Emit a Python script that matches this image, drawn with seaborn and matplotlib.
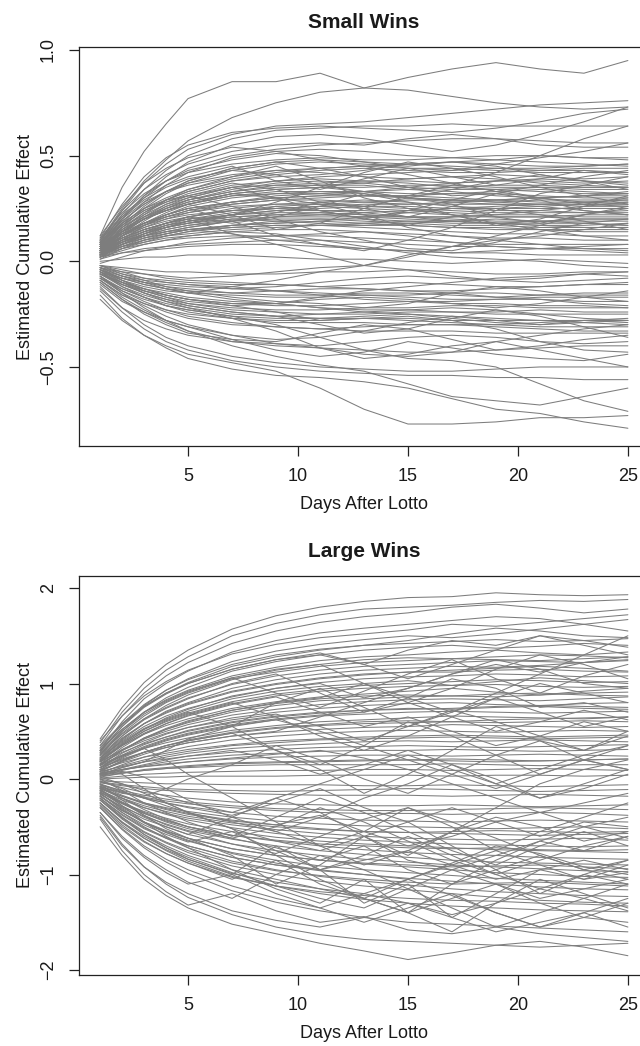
import matplotlib
matplotlib.use("Agg")
import matplotlib.pyplot as plt
import seaborn as sns
import pandas as pd

# ---------------- data ----------------
DAYS = [1, 2, 3, 4, 5, 7, 9, 11, 13, 15, 17, 19, 21, 23, 25]
X_TICKS = [5, 10, 15, 20, 25]

SMALL_TITLE = "Small Wins"
SMALL_Y_TICKS = [-0.5, 0.0, 0.5, 1.0]
SMALL_Y_LABELS = ["\u22120.5", "0.0", "0.5", "1.0"]
SMALL_WINS = [
    [0.12, 0.35, 0.52, 0.65, 0.77, 0.85, 0.85, 0.89, 0.82, 0.87, 0.91, 0.94, 0.91, 0.89, 0.95],
    [0.10, 0.25, 0.38, 0.48, 0.57, 0.68, 0.75, 0.80, 0.82, 0.81, 0.78, 0.75, 0.73, 0.72, 0.73],
    [0.09, 0.24, 0.37, 0.46, 0.53, 0.60, 0.64, 0.65, 0.66, 0.68, 0.70, 0.72, 0.74, 0.75, 0.76],
    [0.11, 0.27, 0.40, 0.49, 0.55, 0.61, 0.63, 0.64, 0.63, 0.62, 0.61, 0.63, 0.66, 0.70, 0.72],
    [0.08, 0.22, 0.34, 0.43, 0.50, 0.58, 0.62, 0.63, 0.64, 0.64, 0.65, 0.64, 0.64, 0.64, 0.64],
    [0.07, 0.20, 0.31, 0.40, 0.47, 0.55, 0.59, 0.60, 0.58, 0.55, 0.52, 0.55, 0.60, 0.66, 0.73],
    [0.10, 0.24, 0.34, 0.41, 0.46, 0.52, 0.55, 0.56, 0.55, 0.58, 0.60, 0.58, 0.55, 0.54, 0.54],
    [0.06, 0.18, 0.28, 0.36, 0.42, 0.49, 0.52, 0.53, 0.52, 0.50, 0.49, 0.48, 0.50, 0.49, 0.48],
    [0.09, 0.21, 0.31, 0.38, 0.43, 0.48, 0.51, 0.50, 0.47, 0.44, 0.43, 0.46, 0.49, 0.52, 0.56],
    [0.05, 0.16, 0.25, 0.32, 0.37, 0.43, 0.46, 0.47, 0.46, 0.45, 0.47, 0.46, 0.45, 0.45, 0.46],
    [0.07, 0.17, 0.26, 0.33, 0.38, 0.44, 0.47, 0.44, 0.40, 0.35, 0.31, 0.32, 0.36, 0.40, 0.43],
    [0.04, 0.14, 0.22, 0.29, 0.34, 0.40, 0.43, 0.44, 0.45, 0.44, 0.44, 0.43, 0.42, 0.42, 0.42],
    [0.08, 0.19, 0.27, 0.33, 0.37, 0.41, 0.43, 0.42, 0.40, 0.39, 0.40, 0.41, 0.40, 0.39, 0.40],
    [0.06, 0.15, 0.23, 0.29, 0.33, 0.38, 0.40, 0.41, 0.43, 0.46, 0.47, 0.45, 0.41, 0.38, 0.36],
    [0.05, 0.14, 0.21, 0.27, 0.31, 0.36, 0.38, 0.39, 0.38, 0.38, 0.37, 0.38, 0.38, 0.37, 0.38],
    [0.03, 0.12, 0.19, 0.25, 0.29, 0.34, 0.37, 0.38, 0.37, 0.35, 0.34, 0.34, 0.35, 0.35, 0.35],
    [0.09, 0.17, 0.24, 0.28, 0.31, 0.35, 0.36, 0.36, 0.36, 0.34, 0.33, 0.31, 0.30, 0.31, 0.33],
    [0.04, 0.12, 0.18, 0.23, 0.27, 0.32, 0.34, 0.35, 0.35, 0.36, 0.36, 0.35, 0.35, 0.34, 0.34],
    [0.07, 0.14, 0.20, 0.24, 0.27, 0.31, 0.33, 0.33, 0.32, 0.30, 0.29, 0.29, 0.30, 0.31, 0.31],
    [0.02, 0.10, 0.17, 0.22, 0.26, 0.30, 0.32, 0.33, 0.33, 0.32, 0.32, 0.32, 0.31, 0.30, 0.30],
    [0.06, 0.13, 0.18, 0.22, 0.25, 0.28, 0.30, 0.31, 0.31, 0.31, 0.30, 0.29, 0.28, 0.28, 0.28],
    [0.05, 0.12, 0.17, 0.21, 0.24, 0.27, 0.29, 0.29, 0.28, 0.27, 0.27, 0.27, 0.27, 0.26, 0.26],
    [0.03, 0.09, 0.14, 0.18, 0.21, 0.25, 0.27, 0.28, 0.29, 0.28, 0.26, 0.25, 0.25, 0.25, 0.25],
    [0.08, 0.14, 0.18, 0.21, 0.23, 0.26, 0.27, 0.27, 0.26, 0.25, 0.24, 0.23, 0.23, 0.23, 0.23],
    [0.04, 0.10, 0.15, 0.18, 0.21, 0.24, 0.25, 0.26, 0.25, 0.24, 0.23, 0.22, 0.22, 0.21, 0.21],
    [0.02, 0.08, 0.12, 0.16, 0.19, 0.22, 0.24, 0.24, 0.24, 0.23, 0.22, 0.21, 0.21, 0.20, 0.20],
    [0.06, 0.11, 0.15, 0.18, 0.20, 0.22, 0.23, 0.23, 0.22, 0.21, 0.20, 0.19, 0.19, 0.19, 0.19],
    [0.03, 0.08, 0.12, 0.15, 0.17, 0.20, 0.21, 0.21, 0.21, 0.20, 0.19, 0.18, 0.18, 0.18, 0.17],
    [0.05, 0.09, 0.12, 0.15, 0.17, 0.19, 0.20, 0.20, 0.19, 0.18, 0.17, 0.17, 0.16, 0.16, 0.16],
    [0.01, 0.06, 0.10, 0.13, 0.15, 0.17, 0.18, 0.19, 0.18, 0.17, 0.16, 0.16, 0.15, 0.15, 0.15],
    [0.04, 0.08, 0.11, 0.13, 0.15, 0.16, 0.17, 0.17, 0.16, 0.15, 0.14, 0.13, 0.13, 0.12, 0.12],
    [0.02, 0.05, 0.08, 0.10, 0.12, 0.14, 0.15, 0.15, 0.14, 0.13, 0.12, 0.11, 0.11, 0.10, 0.10],
    [0.03, 0.06, 0.08, 0.10, 0.11, 0.12, 0.12, 0.12, 0.11, 0.10, 0.09, 0.08, 0.08, 0.08, 0.08],
    [0.01, 0.04, 0.06, 0.07, 0.08, 0.09, 0.10, 0.10, 0.09, 0.08, 0.07, 0.07, 0.06, 0.06, 0.06],
    [0.02, 0.04, 0.05, 0.06, 0.07, 0.08, 0.08, 0.07, 0.06, 0.05, 0.04, 0.04, 0.03, 0.03, 0.03],
    [0.06, 0.14, 0.20, 0.24, 0.27, 0.22, 0.15, 0.18, 0.25, 0.31, 0.36, 0.42, 0.50, 0.58, 0.64],
    [0.09, 0.20, 0.28, 0.33, 0.36, 0.40, 0.45, 0.38, 0.30, 0.25, 0.22, 0.18, 0.15, 0.12, 0.10],
    [0.05, 0.12, 0.18, 0.22, 0.25, 0.19, 0.12, 0.08, 0.05, 0.10, 0.16, 0.24, 0.32, 0.36, 0.40],
    [0.07, 0.16, 0.23, 0.28, 0.32, 0.37, 0.34, 0.28, 0.26, 0.30, 0.27, 0.21, 0.18, 0.22, 0.25],
    [0.04, 0.10, 0.14, 0.17, 0.19, 0.22, 0.28, 0.35, 0.42, 0.47, 0.44, 0.40, 0.35, 0.31, 0.27],
    [0.08, 0.18, 0.25, 0.29, 0.31, 0.26, 0.20, 0.14, 0.10, 0.06, 0.05, 0.09, 0.14, 0.18, 0.20],
    [0.03, 0.08, 0.12, 0.14, 0.16, 0.19, 0.23, 0.28, 0.25, 0.21, 0.26, 0.32, 0.29, 0.24, 0.22],
    [0.10, 0.21, 0.29, 0.35, 0.39, 0.43, 0.41, 0.36, 0.33, 0.30, 0.34, 0.38, 0.41, 0.38, 0.34],
    [0.06, 0.12, 0.16, 0.19, 0.21, 0.18, 0.21, 0.26, 0.32, 0.28, 0.22, 0.17, 0.20, 0.26, 0.31],
    [0.05, 0.11, 0.15, 0.18, 0.20, 0.13, 0.08, 0.03, -0.02, 0.02, 0.07, 0.12, 0.17, 0.22, 0.26],
    [0.00, 0.01, 0.02, 0.02, 0.03, 0.03, 0.02, 0.01, 0.01, 0.00, -0.01, 0.00, 0.01, 0.00, -0.01],
    [-0.02, -0.03, -0.04, -0.05, -0.05, -0.06, -0.06, -0.05, -0.05, -0.04, -0.05, -0.06, -0.06, -0.05, -0.05],
    [-0.03, -0.06, -0.08, -0.09, -0.10, -0.11, -0.11, -0.12, -0.11, -0.10, -0.11, -0.12, -0.12, -0.11, -0.11],
    [-0.05, -0.09, -0.12, -0.14, -0.15, -0.16, -0.17, -0.17, -0.16, -0.16, -0.15, -0.15, -0.16, -0.16, -0.16],
    [-0.04, -0.09, -0.13, -0.16, -0.18, -0.20, -0.21, -0.21, -0.20, -0.19, -0.19, -0.18, -0.18, -0.19, -0.19],
    [-0.06, -0.11, -0.15, -0.18, -0.20, -0.22, -0.23, -0.23, -0.22, -0.22, -0.21, -0.21, -0.22, -0.22, -0.22],
    [-0.03, -0.09, -0.14, -0.17, -0.20, -0.23, -0.24, -0.25, -0.25, -0.24, -0.24, -0.25, -0.25, -0.25, -0.25],
    [-0.07, -0.13, -0.17, -0.21, -0.23, -0.26, -0.27, -0.27, -0.27, -0.27, -0.28, -0.28, -0.28, -0.28, -0.28],
    [-0.05, -0.12, -0.17, -0.21, -0.24, -0.27, -0.29, -0.29, -0.29, -0.30, -0.30, -0.30, -0.31, -0.31, -0.31],
    [-0.08, -0.15, -0.20, -0.24, -0.27, -0.30, -0.31, -0.32, -0.33, -0.33, -0.33, -0.34, -0.34, -0.34, -0.34],
    [-0.04, -0.10, -0.14, -0.17, -0.19, -0.21, -0.20, -0.17, -0.14, -0.12, -0.10, -0.08, -0.07, -0.06, -0.05],
    [-0.06, -0.12, -0.16, -0.19, -0.21, -0.24, -0.26, -0.30, -0.34, -0.32, -0.27, -0.23, -0.26, -0.31, -0.36],
    [-0.09, -0.17, -0.23, -0.28, -0.31, -0.35, -0.37, -0.36, -0.33, -0.29, -0.26, -0.28, -0.30, -0.28, -0.27],
    [-0.10, -0.18, -0.25, -0.30, -0.34, -0.37, -0.38, -0.34, -0.30, -0.32, -0.37, -0.42, -0.40, -0.37, -0.35],
    [-0.12, -0.22, -0.30, -0.36, -0.40, -0.45, -0.48, -0.50, -0.51, -0.52, -0.52, -0.51, -0.50, -0.50, -0.50],
    [-0.14, -0.24, -0.32, -0.38, -0.42, -0.47, -0.50, -0.52, -0.53, -0.54, -0.54, -0.55, -0.55, -0.56, -0.56],
    [-0.16, -0.27, -0.35, -0.41, -0.46, -0.51, -0.54, -0.55, -0.57, -0.60, -0.65, -0.70, -0.72, -0.76, -0.79],
    [-0.18, -0.28, -0.35, -0.40, -0.44, -0.48, -0.52, -0.60, -0.70, -0.77, -0.77, -0.76, -0.74, -0.74, -0.73],
    [-0.07, -0.15, -0.22, -0.28, -0.33, -0.40, -0.45, -0.49, -0.52, -0.58, -0.64, -0.66, -0.68, -0.64, -0.60],
    [-0.08, -0.14, -0.18, -0.21, -0.23, -0.26, -0.30, -0.36, -0.42, -0.46, -0.47, -0.50, -0.58, -0.66, -0.71],
    [-0.05, -0.10, -0.15, -0.19, -0.22, -0.27, -0.33, -0.41, -0.46, -0.44, -0.40, -0.38, -0.42, -0.46, -0.50],
    [-0.11, -0.19, -0.24, -0.28, -0.31, -0.37, -0.42, -0.45, -0.43, -0.38, -0.41, -0.44, -0.46, -0.47, -0.44],
    [-0.09, -0.16, -0.21, -0.26, -0.30, -0.35, -0.39, -0.41, -0.44, -0.45, -0.43, -0.38, -0.35, -0.32, -0.30],
    [-0.02, -0.06, -0.09, -0.12, -0.14, -0.17, -0.19, -0.20, -0.22, -0.20, -0.15, -0.12, -0.14, -0.17, -0.19],
    [-0.04, -0.08, -0.11, -0.13, -0.15, -0.12, -0.09, -0.05, -0.02, 0.03, 0.07, 0.10, 0.12, 0.15, 0.18],
    [-0.06, -0.10, -0.13, -0.16, -0.18, -0.21, -0.24, -0.28, -0.27, -0.26, -0.28, -0.32, -0.38, -0.42, -0.43],
    [-0.03, -0.07, -0.10, -0.13, -0.15, -0.18, -0.20, -0.22, -0.24, -0.25, -0.26, -0.27, -0.28, -0.29, -0.30],
    [0.05, 0.13, 0.20, 0.26, 0.30, 0.35, 0.38, 0.40, 0.41, 0.42, 0.43, 0.44, 0.44, 0.45, 0.46],
    [0.07, 0.15, 0.21, 0.25, 0.28, 0.32, 0.34, 0.35, 0.33, 0.30, 0.28, 0.27, 0.26, 0.24, 0.22],
    [0.02, 0.07, 0.11, 0.14, 0.16, 0.19, 0.21, 0.22, 0.23, 0.24, 0.25, 0.25, 0.26, 0.27, 0.27],
    [0.04, 0.09, 0.13, 0.16, 0.18, 0.21, 0.22, 0.23, 0.22, 0.21, 0.21, 0.22, 0.24, 0.26, 0.28],
    [0.03, 0.07, 0.10, 0.12, 0.14, 0.16, 0.17, 0.17, 0.17, 0.18, 0.19, 0.20, 0.19, 0.18, 0.17],
    [0.06, 0.14, 0.20, 0.25, 0.29, 0.33, 0.35, 0.36, 0.37, 0.39, 0.40, 0.39, 0.37, 0.36, 0.35],
    [-0.02, -0.04, -0.06, -0.08, -0.09, -0.10, -0.11, -0.12, -0.13, -0.14, -0.14, -0.13, -0.12, -0.11, -0.10],
    [-0.04, -0.08, -0.11, -0.13, -0.14, -0.15, -0.14, -0.13, -0.13, -0.14, -0.15, -0.17, -0.18, -0.20, -0.21],
    [0.05, 0.10, 0.12, 0.14, 0.15, 0.13, 0.10, 0.08, 0.06, 0.05, 0.04, 0.05, 0.06, 0.05, 0.04],
    [0.03, 0.07, 0.09, 0.11, 0.12, 0.14, 0.13, 0.10, 0.07, 0.04, 0.02, 0.01, 0.00, -0.02, -0.03],
    [-0.01, 0.02, 0.05, 0.07, 0.09, 0.11, 0.12, 0.13, 0.14, 0.12, 0.09, 0.07, 0.06, 0.07, 0.08],
    [-0.03, -0.05, -0.06, -0.07, -0.08, -0.07, -0.05, -0.03, -0.02, -0.04, -0.07, -0.09, -0.08, -0.06, -0.07],
    [-0.05, -0.08, -0.10, -0.11, -0.12, -0.13, -0.12, -0.10, -0.08, -0.07, -0.08, -0.09, -0.10, -0.09, -0.08],
    [0.08, 0.17, 0.24, 0.29, 0.33, 0.38, 0.41, 0.43, 0.44, 0.43, 0.42, 0.42, 0.43, 0.44, 0.44],
    [0.06, 0.14, 0.20, 0.24, 0.27, 0.31, 0.32, 0.32, 0.31, 0.31, 0.32, 0.33, 0.34, 0.33, 0.32],
    [0.04, 0.11, 0.16, 0.20, 0.23, 0.27, 0.29, 0.30, 0.31, 0.30, 0.29, 0.28, 0.29, 0.29, 0.29],
    [0.07, 0.15, 0.21, 0.26, 0.29, 0.33, 0.36, 0.37, 0.38, 0.37, 0.35, 0.34, 0.33, 0.32, 0.32],
    [0.02, 0.08, 0.13, 0.17, 0.20, 0.23, 0.25, 0.26, 0.27, 0.27, 0.28, 0.29, 0.30, 0.31, 0.32],
    [0.05, 0.11, 0.15, 0.18, 0.21, 0.24, 0.26, 0.27, 0.28, 0.29, 0.29, 0.28, 0.27, 0.27, 0.26],
    [0.09, 0.19, 0.27, 0.33, 0.38, 0.44, 0.47, 0.48, 0.47, 0.46, 0.45, 0.44, 0.43, 0.43, 0.42],
    [0.11, 0.23, 0.32, 0.38, 0.42, 0.46, 0.48, 0.49, 0.48, 0.48, 0.49, 0.50, 0.50, 0.49, 0.49],
    [0.06, 0.13, 0.18, 0.22, 0.25, 0.28, 0.30, 0.31, 0.33, 0.35, 0.37, 0.38, 0.39, 0.38, 0.37],
    [0.03, 0.09, 0.13, 0.16, 0.19, 0.22, 0.24, 0.25, 0.26, 0.26, 0.25, 0.24, 0.24, 0.23, 0.24],
    [0.04, 0.10, 0.14, 0.17, 0.19, 0.21, 0.22, 0.22, 0.21, 0.21, 0.21, 0.21, 0.21, 0.22, 0.22],
    [0.02, 0.06, 0.09, 0.12, 0.14, 0.17, 0.19, 0.20, 0.20, 0.19, 0.18, 0.18, 0.19, 0.20, 0.20],
    [0.05, 0.10, 0.14, 0.16, 0.18, 0.20, 0.19, 0.18, 0.17, 0.17, 0.16, 0.15, 0.15, 0.14, 0.14],
    [0.07, 0.13, 0.17, 0.20, 0.22, 0.24, 0.25, 0.24, 0.23, 0.21, 0.19, 0.18, 0.17, 0.17, 0.18],
    [0.03, 0.07, 0.10, 0.12, 0.13, 0.15, 0.16, 0.17, 0.18, 0.19, 0.19, 0.18, 0.17, 0.16, 0.16],
    [0.10, 0.22, 0.30, 0.36, 0.40, 0.45, 0.38, 0.34, 0.39, 0.44, 0.40, 0.36, 0.39, 0.43, 0.41],
    [0.08, 0.16, 0.22, 0.27, 0.30, 0.35, 0.30, 0.24, 0.20, 0.24, 0.29, 0.34, 0.30, 0.27, 0.30],
    [0.04, 0.09, 0.13, 0.16, 0.18, 0.22, 0.26, 0.24, 0.20, 0.17, 0.21, 0.25, 0.22, 0.19, 0.15],
    [0.12, 0.26, 0.37, 0.44, 0.49, 0.54, 0.52, 0.48, 0.45, 0.41, 0.37, 0.33, 0.30, 0.28, 0.27],
    [0.06, 0.14, 0.20, 0.24, 0.28, 0.32, 0.30, 0.27, 0.22, 0.16, 0.12, 0.10, 0.08, 0.06, 0.05],
    [-0.04, -0.07, -0.09, -0.10, -0.11, -0.12, -0.14, -0.16, -0.18, -0.19, -0.20, -0.20, -0.21, -0.21, -0.22],
    [-0.06, -0.10, -0.13, -0.15, -0.17, -0.19, -0.20, -0.22, -0.23, -0.23, -0.24, -0.24, -0.23, -0.24, -0.24],
    [-0.05, -0.11, -0.15, -0.18, -0.21, -0.24, -0.26, -0.27, -0.26, -0.25, -0.27, -0.29, -0.30, -0.29, -0.28],
    [-0.08, -0.13, -0.17, -0.20, -0.22, -0.25, -0.26, -0.25, -0.24, -0.23, -0.22, -0.23, -0.25, -0.27, -0.28],
    [-0.07, -0.14, -0.19, -0.23, -0.26, -0.29, -0.31, -0.32, -0.31, -0.30, -0.30, -0.31, -0.32, -0.33, -0.33],
    [-0.03, -0.07, -0.10, -0.12, -0.13, -0.15, -0.16, -0.16, -0.15, -0.15, -0.16, -0.17, -0.16, -0.15, -0.15],
    [-0.10, -0.18, -0.24, -0.29, -0.33, -0.38, -0.40, -0.41, -0.42, -0.43, -0.43, -0.42, -0.41, -0.40, -0.40],
    [-0.06, -0.11, -0.14, -0.16, -0.18, -0.20, -0.20, -0.18, -0.17, -0.18, -0.20, -0.22, -0.20, -0.17, -0.14],
    [-0.09, -0.16, -0.20, -0.23, -0.25, -0.27, -0.28, -0.28, -0.27, -0.28, -0.29, -0.30, -0.29, -0.28, -0.29],
    [-0.02, -0.05, -0.08, -0.10, -0.11, -0.13, -0.14, -0.15, -0.16, -0.17, -0.18, -0.18, -0.17, -0.17, -0.17],
    [-0.13, -0.22, -0.28, -0.32, -0.35, -0.38, -0.39, -0.40, -0.38, -0.36, -0.35, -0.36, -0.38, -0.39, -0.38],
    [0.09, 0.18, 0.25, 0.30, 0.34, 0.39, 0.42, 0.44, 0.45, 0.46, 0.47, 0.48, 0.47, 0.46, 0.45],
    [0.05, 0.12, 0.17, 0.21, 0.24, 0.28, 0.31, 0.32, 0.33, 0.34, 0.35, 0.36, 0.36, 0.35, 0.35],
    [0.04, 0.08, 0.11, 0.13, 0.15, 0.17, 0.18, 0.19, 0.21, 0.23, 0.25, 0.26, 0.27, 0.28, 0.29],
    [0.08, 0.20, 0.30, 0.38, 0.44, 0.50, 0.53, 0.55, 0.56, 0.57, 0.58, 0.58, 0.57, 0.56, 0.56],
]

LARGE_TITLE = "Large Wins"
LARGE_Y_TICKS = [-2, -1, 0, 1, 2]
LARGE_Y_LABELS = ["\u22122", "\u22121", "0", "1", "2"]
LARGE_WINS = [
    [0.42, 0.75, 1.01, 1.20, 1.35, 1.57, 1.71, 1.80, 1.86, 1.90, 1.91, 1.95, 1.93, 1.92, 1.93],
    [0.38, 0.70, 0.95, 1.14, 1.28, 1.50, 1.63, 1.72, 1.78, 1.80, 1.82, 1.85, 1.87, 1.86, 1.88],
    [0.35, 0.66, 0.90, 1.08, 1.22, 1.42, 1.55, 1.64, 1.70, 1.74, 1.80, 1.83, 1.79, 1.74, 1.78],
    [0.30, 0.60, 0.84, 1.00, 1.13, 1.33, 1.45, 1.53, 1.58, 1.62, 1.66, 1.70, 1.68, 1.62, 1.55],
    [0.40, 0.66, 0.87, 1.02, 1.14, 1.31, 1.41, 1.48, 1.52, 1.56, 1.62, 1.60, 1.64, 1.68, 1.72],
    [0.28, 0.55, 0.77, 0.93, 1.05, 1.23, 1.34, 1.41, 1.46, 1.50, 1.48, 1.52, 1.57, 1.62, 1.67],
    [0.33, 0.57, 0.76, 0.90, 1.01, 1.18, 1.28, 1.35, 1.40, 1.45, 1.52, 1.58, 1.55, 1.50, 1.48],
    [0.25, 0.50, 0.70, 0.85, 0.96, 1.13, 1.23, 1.30, 1.35, 1.38, 1.40, 1.37, 1.39, 1.42, 1.40],
    [0.30, 0.52, 0.70, 0.83, 0.93, 1.08, 1.17, 1.24, 1.28, 1.30, 1.33, 1.35, 1.32, 1.30, 1.33],
    [0.22, 0.45, 0.63, 0.77, 0.88, 1.04, 1.14, 1.20, 1.25, 1.27, 1.26, 1.28, 1.30, 1.29, 1.27],
    [0.27, 0.47, 0.63, 0.75, 0.85, 0.99, 1.08, 1.14, 1.18, 1.20, 1.22, 1.24, 1.23, 1.22, 1.24],
    [0.20, 0.41, 0.58, 0.71, 0.80, 0.95, 1.04, 1.10, 1.14, 1.16, 1.18, 1.17, 1.19, 1.22, 1.25],
    [0.24, 0.43, 0.58, 0.69, 0.78, 0.91, 0.99, 1.05, 1.09, 1.12, 1.14, 1.16, 1.18, 1.16, 1.13],
    [0.18, 0.37, 0.52, 0.64, 0.73, 0.87, 0.95, 1.01, 1.05, 1.07, 1.08, 1.10, 1.09, 1.07, 1.08],
    [0.22, 0.39, 0.53, 0.63, 0.71, 0.84, 0.92, 0.97, 1.00, 1.03, 0.98, 1.02, 1.06, 1.03, 1.00],
    [0.16, 0.33, 0.47, 0.58, 0.67, 0.79, 0.87, 0.92, 0.95, 0.97, 0.98, 0.99, 0.97, 0.96, 0.97],
    [0.20, 0.35, 0.47, 0.56, 0.63, 0.74, 0.81, 0.86, 0.89, 0.92, 0.95, 0.91, 0.88, 0.92, 0.95],
    [0.14, 0.30, 0.43, 0.53, 0.61, 0.72, 0.79, 0.84, 0.87, 0.88, 0.87, 0.89, 0.90, 0.88, 0.87],
    [0.18, 0.31, 0.42, 0.50, 0.57, 0.67, 0.73, 0.78, 0.81, 0.83, 0.84, 0.83, 0.82, 0.84, 0.86],
    [0.12, 0.27, 0.38, 0.47, 0.54, 0.64, 0.70, 0.74, 0.77, 0.79, 0.80, 0.78, 0.77, 0.79, 0.80],
    [0.16, 0.28, 0.37, 0.44, 0.50, 0.59, 0.65, 0.69, 0.72, 0.74, 0.73, 0.75, 0.76, 0.74, 0.73],
    [0.10, 0.23, 0.33, 0.41, 0.47, 0.56, 0.62, 0.66, 0.68, 0.70, 0.71, 0.70, 0.69, 0.70, 0.71],
    [0.14, 0.24, 0.32, 0.38, 0.43, 0.51, 0.56, 0.60, 0.62, 0.64, 0.66, 0.65, 0.64, 0.63, 0.65],
    [0.08, 0.19, 0.28, 0.35, 0.41, 0.49, 0.54, 0.57, 0.60, 0.61, 0.60, 0.59, 0.60, 0.61, 0.60],
    [0.12, 0.21, 0.28, 0.33, 0.38, 0.45, 0.49, 0.52, 0.54, 0.55, 0.57, 0.56, 0.55, 0.54, 0.55],
    [0.06, 0.15, 0.23, 0.29, 0.34, 0.41, 0.45, 0.48, 0.50, 0.51, 0.50, 0.49, 0.50, 0.51, 0.50],
    [0.10, 0.17, 0.23, 0.27, 0.31, 0.36, 0.40, 0.42, 0.44, 0.45, 0.46, 0.45, 0.44, 0.45, 0.46],
    [0.05, 0.12, 0.18, 0.23, 0.27, 0.32, 0.35, 0.37, 0.39, 0.40, 0.39, 0.40, 0.41, 0.40, 0.39],
    [0.08, 0.13, 0.18, 0.21, 0.24, 0.28, 0.31, 0.33, 0.34, 0.35, 0.34, 0.33, 0.34, 0.35, 0.36],
    [0.03, 0.09, 0.14, 0.18, 0.21, 0.25, 0.27, 0.29, 0.30, 0.30, 0.31, 0.30, 0.29, 0.30, 0.31],
    [0.06, 0.10, 0.13, 0.16, 0.18, 0.21, 0.23, 0.24, 0.25, 0.25, 0.24, 0.25, 0.26, 0.25, 0.24],
    [0.02, 0.06, 0.10, 0.12, 0.14, 0.17, 0.18, 0.19, 0.20, 0.20, 0.21, 0.20, 0.19, 0.20, 0.21],
    [0.04, 0.07, 0.09, 0.11, 0.12, 0.14, 0.15, 0.15, 0.15, 0.15, 0.16, 0.15, 0.14, 0.15, 0.15],
    [0.01, 0.03, 0.05, 0.06, 0.07, 0.08, 0.09, 0.09, 0.10, 0.10, 0.09, 0.10, 0.11, 0.10, 0.09],
    [0.00, 0.01, 0.02, 0.02, 0.03, 0.03, 0.03, 0.04, 0.04, 0.04, 0.03, 0.04, 0.04, 0.03, 0.04],
    [-0.02, -0.03, -0.04, -0.05, -0.05, -0.06, -0.06, -0.06, -0.07, -0.07, -0.06, -0.07, -0.08, -0.07, -0.06],
    [-0.04, -0.07, -0.10, -0.12, -0.13, -0.15, -0.16, -0.17, -0.17, -0.17, -0.18, -0.17, -0.16, -0.17, -0.18],
    [-0.03, -0.09, -0.14, -0.17, -0.20, -0.24, -0.26, -0.27, -0.28, -0.28, -0.27, -0.28, -0.29, -0.28, -0.27],
    [-0.08, -0.14, -0.19, -0.23, -0.26, -0.30, -0.33, -0.35, -0.36, -0.36, -0.37, -0.36, -0.35, -0.36, -0.38],
    [-0.05, -0.13, -0.20, -0.25, -0.29, -0.35, -0.39, -0.41, -0.43, -0.44, -0.45, -0.44, -0.43, -0.44, -0.45],
    [-0.10, -0.18, -0.25, -0.30, -0.34, -0.40, -0.44, -0.47, -0.49, -0.50, -0.51, -0.52, -0.51, -0.50, -0.52],
    [-0.07, -0.17, -0.25, -0.31, -0.36, -0.43, -0.48, -0.52, -0.55, -0.56, -0.57, -0.58, -0.59, -0.58, -0.57],
    [-0.12, -0.22, -0.30, -0.36, -0.41, -0.48, -0.53, -0.57, -0.60, -0.62, -0.63, -0.64, -0.63, -0.62, -0.64],
    [-0.09, -0.20, -0.30, -0.37, -0.43, -0.51, -0.57, -0.61, -0.64, -0.66, -0.68, -0.69, -0.70, -0.71, -0.70],
    [-0.14, -0.25, -0.34, -0.41, -0.47, -0.55, -0.61, -0.65, -0.68, -0.70, -0.72, -0.74, -0.75, -0.76, -0.77],
    [-0.11, -0.24, -0.35, -0.43, -0.50, -0.59, -0.65, -0.70, -0.74, -0.77, -0.79, -0.80, -0.82, -0.83, -0.84],
    [-0.16, -0.29, -0.39, -0.47, -0.54, -0.63, -0.70, -0.75, -0.79, -0.82, -0.85, -0.87, -0.88, -0.89, -0.90],
    [-0.13, -0.28, -0.40, -0.50, -0.58, -0.68, -0.75, -0.80, -0.84, -0.87, -0.90, -0.92, -0.94, -0.96, -0.97],
    [-0.18, -0.33, -0.45, -0.54, -0.62, -0.73, -0.80, -0.85, -0.89, -0.92, -0.95, -0.98, -1.00, -1.02, -1.03],
    [-0.15, -0.31, -0.45, -0.56, -0.65, -0.77, -0.85, -0.91, -0.95, -0.98, -1.01, -1.04, -1.06, -1.08, -1.10],
    [-0.20, -0.37, -0.51, -0.61, -0.70, -0.82, -0.90, -0.96, -1.00, -1.04, -1.07, -1.10, -1.13, -1.15, -1.16],
    [-0.17, -0.35, -0.50, -0.62, -0.72, -0.86, -0.95, -1.02, -1.07, -1.11, -1.15, -1.18, -1.20, -1.22, -1.23],
    [-0.22, -0.41, -0.56, -0.67, -0.77, -0.91, -1.00, -1.07, -1.12, -1.16, -1.20, -1.24, -1.27, -1.29, -1.30],
    [-0.25, -0.45, -0.62, -0.75, -0.86, -1.02, -1.12, -1.20, -1.26, -1.30, -1.33, -1.35, -1.37, -1.38, -1.39],
    [-0.30, -0.53, -0.72, -0.87, -0.99, -1.17, -1.29, -1.38, -1.45, -1.50, -1.52, -1.54, -1.56, -1.58, -1.60],
    [-0.50, -0.80, -1.05, -1.22, -1.35, -1.52, -1.62, -1.72, -1.80, -1.89, -1.82, -1.74, -1.70, -1.76, -1.85],
    [-0.38, -0.68, -0.92, -1.10, -1.24, -1.42, -1.55, -1.63, -1.68, -1.70, -1.72, -1.74, -1.76, -1.74, -1.72],
    [-0.42, -0.75, -1.00, -1.18, -1.32, -1.20, -1.38, -1.50, -1.44, -1.58, -1.62, -1.55, -1.62, -1.66, -1.70],
    [-0.20, -0.40, -0.58, -0.72, -0.84, -1.00, -0.70, -0.95, -1.30, -1.10, -1.45, -1.20, -0.95, -1.05, -0.90],
    [0.10, 0.05, -0.10, -0.25, -0.35, -0.52, -0.80, -1.05, -1.25, -1.40, -1.10, -0.85, -0.65, -0.75, -0.60],
    [-0.05, -0.22, -0.38, -0.52, -0.62, -0.80, -1.10, -0.90, -0.60, -0.45, -0.70, -0.95, -1.20, -1.00, -0.85],
    [0.15, 0.25, 0.32, 0.20, 0.05, -0.20, -0.45, -0.70, -0.55, -0.30, -0.50, -0.75, -0.55, -0.40, -0.25],
    [-0.10, -0.28, -0.45, -0.60, -0.72, -0.95, -1.15, -1.30, -1.05, -1.40, -1.60, -1.30, -1.05, -1.20, -1.35],
    [0.05, 0.12, 0.18, 0.30, 0.42, 0.55, 0.30, 0.10, -0.15, 0.05, 0.30, 0.55, 0.40, 0.20, 0.35],
    [0.20, 0.38, 0.52, 0.62, 0.70, 0.55, 0.80, 0.95, 0.75, 0.55, 0.70, 0.90, 1.10, 1.30, 1.50],
    [-0.15, -0.30, -0.42, -0.50, -0.58, -0.40, -0.20, -0.35, -0.60, -0.80, -0.55, -0.30, -0.05, 0.10, 0.20],
    [0.25, 0.45, 0.62, 0.74, 0.84, 1.00, 1.10, 0.90, 0.70, 0.85, 1.05, 0.95, 0.75, 0.80, 0.70],
    [-0.25, -0.45, -0.60, -0.72, -0.82, -0.98, -1.12, -1.25, -1.35, -1.15, -0.95, -1.10, -1.30, -1.45, -1.30],
    [0.00, -0.12, -0.25, -0.35, -0.45, -0.60, -0.40, -0.20, -0.35, -0.55, -0.75, -0.90, -0.70, -0.55, -0.70],
    [0.12, 0.20, 0.28, 0.35, 0.40, 0.48, 0.30, 0.15, 0.35, 0.60, 0.45, 0.25, 0.05, 0.20, 0.10],
    [-0.30, -0.52, -0.70, -0.84, -0.95, -1.12, -1.25, -1.35, -1.20, -1.05, -1.22, -1.40, -1.55, -1.40, -1.25],
    [0.30, 0.52, 0.70, 0.82, 0.92, 1.06, 1.15, 1.20, 1.00, 0.80, 0.95, 1.15, 1.30, 1.20, 1.05],
    [-0.08, -0.15, -0.18, -0.10, 0.00, 0.15, 0.35, 0.20, 0.00, -0.15, 0.05, 0.25, 0.40, 0.30, 0.50],
    [-0.35, -0.60, -0.80, -0.95, -1.08, -1.25, -1.00, -0.80, -0.95, -1.15, -1.35, -1.55, -1.40, -1.25, -1.10],
    [0.18, 0.35, 0.48, 0.58, 0.66, 0.78, 0.86, 0.70, 0.55, 0.65, 0.50, 0.35, 0.45, 0.60, 0.50],
    [-0.12, -0.25, -0.38, -0.48, -0.55, -0.68, -0.78, -0.60, -0.42, -0.30, -0.45, -0.62, -0.80, -0.95, -0.85],
    [0.08, 0.18, 0.26, 0.33, 0.38, 0.45, 0.50, 0.65, 0.80, 0.95, 1.10, 1.20, 1.12, 1.22, 1.28],
    [-0.20, -0.38, -0.52, -0.62, -0.70, -0.82, -0.90, -0.95, -0.85, -0.75, -0.90, -1.05, -0.95, -0.85, -0.95],
    [0.02, -0.05, -0.15, -0.25, -0.35, -0.52, -0.65, -0.75, -0.60, -0.85, -0.95, -0.80, -0.65, -0.50, -0.40],
    [0.35, 0.58, 0.76, 0.90, 1.00, 1.15, 1.25, 1.30, 1.20, 1.35, 1.45, 1.40, 1.50, 1.45, 1.38],
    [0.32, 0.58, 0.78, 0.93, 1.04, 1.20, 1.30, 1.36, 1.40, 1.42, 1.44, 1.46, 1.44, 1.45, 1.47],
    [0.26, 0.48, 0.66, 0.80, 0.90, 1.05, 1.12, 1.18, 1.22, 1.24, 1.26, 1.25, 1.24, 1.26, 1.28],
    [0.22, 0.42, 0.58, 0.70, 0.79, 0.92, 1.00, 1.06, 1.10, 1.12, 1.12, 1.14, 1.15, 1.13, 1.12],
    [0.19, 0.36, 0.50, 0.61, 0.69, 0.81, 0.89, 0.94, 0.98, 1.00, 1.02, 1.04, 1.03, 1.01, 1.02],
    [0.15, 0.30, 0.42, 0.52, 0.59, 0.70, 0.77, 0.82, 0.84, 0.86, 0.87, 0.86, 0.88, 0.90, 0.91],
    [0.12, 0.25, 0.36, 0.44, 0.51, 0.60, 0.66, 0.70, 0.72, 0.73, 0.74, 0.76, 0.77, 0.76, 0.75],
    [0.09, 0.19, 0.28, 0.35, 0.40, 0.48, 0.53, 0.56, 0.58, 0.59, 0.60, 0.62, 0.63, 0.64, 0.65],
    [0.07, 0.14, 0.20, 0.25, 0.29, 0.35, 0.38, 0.41, 0.42, 0.43, 0.44, 0.43, 0.42, 0.43, 0.44],
    [0.03, 0.06, 0.09, 0.11, 0.13, 0.16, 0.17, 0.18, 0.19, 0.20, 0.19, 0.18, 0.19, 0.20, 0.21],
    [-0.03, -0.06, -0.08, -0.10, -0.11, -0.12, -0.13, -0.12, -0.11, -0.10, -0.11, -0.12, -0.13, -0.12, -0.11],
    [-0.06, -0.12, -0.17, -0.21, -0.24, -0.28, -0.31, -0.32, -0.33, -0.33, -0.32, -0.31, -0.30, -0.31, -0.32],
    [-0.10, -0.20, -0.28, -0.34, -0.39, -0.46, -0.50, -0.53, -0.55, -0.56, -0.55, -0.54, -0.55, -0.56, -0.55],
    [-0.14, -0.26, -0.36, -0.44, -0.50, -0.59, -0.64, -0.68, -0.70, -0.72, -0.73, -0.72, -0.74, -0.75, -0.74],
    [-0.18, -0.33, -0.45, -0.55, -0.62, -0.73, -0.80, -0.85, -0.88, -0.90, -0.92, -0.91, -0.90, -0.92, -0.94],
    [-0.22, -0.40, -0.55, -0.66, -0.75, -0.88, -0.96, -1.01, -1.05, -1.08, -1.10, -1.09, -1.08, -1.10, -1.12],
    [-0.27, -0.48, -0.65, -0.78, -0.88, -1.03, -1.12, -1.18, -1.22, -1.25, -1.27, -1.28, -1.30, -1.31, -1.33],
    [0.28, 0.50, 0.68, 0.81, 0.91, 1.06, 0.90, 0.75, 0.92, 1.10, 1.25, 1.05, 0.90, 1.08, 1.20],
    [0.05, 0.08, 0.02, -0.10, -0.22, -0.40, -0.55, -0.40, -0.20, -0.05, 0.15, 0.00, -0.20, -0.10, 0.05],
    [-0.08, -0.20, -0.32, -0.42, -0.50, -0.62, -0.50, -0.30, -0.45, -0.65, -0.85, -1.00, -1.15, -1.00, -1.10],
    [0.20, 0.36, 0.50, 0.60, 0.68, 0.80, 0.65, 0.45, 0.30, 0.45, 0.65, 0.85, 0.70, 0.55, 0.65],
    [-0.18, -0.35, -0.48, -0.58, -0.66, -0.55, -0.75, -0.95, -0.80, -0.60, -0.80, -1.00, -0.85, -0.70, -0.60],
    [0.10, 0.22, 0.32, 0.40, 0.46, 0.55, 0.62, 0.50, 0.35, 0.20, 0.05, -0.10, 0.05, 0.20, 0.10],
    [-0.28, -0.50, -0.66, -0.78, -0.88, -1.05, -0.85, -1.10, -1.25, -1.40, -1.25, -1.10, -1.25, -1.15, -1.05],
    [0.15, 0.30, 0.43, 0.52, 0.60, 0.72, 0.80, 0.85, 1.00, 0.85, 0.70, 0.85, 1.00, 0.90, 0.80],
    [-0.02, -0.10, -0.20, -0.28, -0.35, -0.45, -0.55, -0.70, -0.90, -0.75, -0.55, -0.40, -0.50, -0.65, -0.55],
    [0.00, -0.05, -0.12, -0.18, -0.25, -0.35, -0.20, -0.05, 0.10, 0.25, 0.10, -0.05, 0.10, 0.25, 0.35],
    [-0.35, -0.62, -0.82, -0.98, -1.10, -1.00, -1.20, -1.35, -1.50, -1.35, -1.20, -1.40, -1.55, -1.45, -1.50],
    [0.22, 0.40, 0.55, 0.66, 0.74, 0.86, 0.95, 1.00, 0.85, 0.95, 1.10, 1.25, 1.15, 1.00, 0.95],
    [-0.12, -0.25, -0.36, -0.45, -0.52, -0.62, -0.72, -0.85, -0.70, -0.95, -1.10, -0.95, -0.80, -0.95, -1.05],
    [0.04, 0.10, 0.15, 0.20, 0.24, 0.30, 0.20, 0.05, 0.15, 0.30, 0.15, -0.05, -0.20, -0.05, 0.10],
    [-0.22, -0.42, -0.58, -0.70, -0.80, -0.95, -1.05, -1.15, -1.25, -1.05, -0.90, -0.75, -0.90, -1.05, -0.98],
    [0.30, 0.55, 0.75, 0.89, 1.00, 1.15, 1.25, 1.32, 1.20, 1.05, 1.20, 1.35, 1.50, 1.40, 1.30],
    [-0.06, -0.14, -0.20, -0.25, -0.30, -0.38, -0.25, -0.10, -0.30, -0.45, -0.30, -0.45, -0.60, -0.45, -0.50],
    [0.18, 0.30, 0.40, 0.48, 0.54, 0.62, 0.68, 0.55, 0.40, 0.55, 0.72, 0.60, 0.45, 0.30, 0.45],
    [-0.40, -0.70, -0.92, -1.08, -1.20, -1.38, -1.48, -1.55, -1.45, -1.30, -1.45, -1.60, -1.50, -1.40, -1.55],
    [-0.15, -0.32, -0.46, -0.56, -0.64, -0.78, -0.88, -0.95, -1.00, -1.05, -0.88, -0.70, -0.78, -0.92, -1.00],
    [0.12, 0.24, 0.34, 0.42, 0.48, 0.57, 0.63, 0.67, 0.70, 0.80, 0.65, 0.50, 0.60, 0.72, 0.62],
    [-0.25, -0.46, -0.62, -0.74, -0.84, -0.99, -1.08, -1.15, -1.20, -1.30, -1.42, -1.30, -1.15, -1.25, -1.38],
    [0.06, 0.10, 0.13, 0.15, 0.18, 0.22, 0.26, 0.30, 0.22, 0.10, -0.05, -0.20, -0.35, -0.25, -0.15],
    [-0.09, -0.18, -0.26, -0.32, -0.37, -0.44, -0.48, -0.38, -0.55, -0.70, -0.60, -0.45, -0.35, -0.50, -0.62],
]

X_LABEL = "Days After Lotto"
Y_LABEL = "Estimated Cumulative Effect"


def to_long(paths):
    rows = []
    for i, path in enumerate(paths):
        for d, v in zip(DAYS, path):
            rows.append({"line": i, "day": d, "value": v})
    return pd.DataFrame(rows)


# ---------------- style ----------------
sns.set_theme(style="white")
plt.rcParams["font.family"] = ["Liberation Sans", "DejaVu Sans"]
plt.rcParams["axes.edgecolor"] = "#222222"
plt.rcParams["axes.linewidth"] = 0.9

LINE_COLOR = "#7d7d7d"
W, H = 640, 1046
fig = plt.figure(figsize=(W / 100, H / 100), dpi=100)

panels = [
    (SMALL_WINS, SMALL_TITLE, SMALL_Y_TICKS, SMALL_Y_LABELS, (-0.874, 1.014), 47, 446),
    (LARGE_WINS, LARGE_TITLE, LARGE_Y_TICKS, LARGE_Y_LABELS, (-2.052, 2.126), 576, 975),
]

for paths, title, yt, ytl, ylim, top_px, bot_px in panels:
    left_px, right_px = 79, 649
    ax = fig.add_axes([left_px / W, 1 - bot_px / H,
                       (right_px - left_px) / W, (bot_px - top_px) / H])
    df = to_long(paths)
    sns.lineplot(data=df, x="day", y="value", units="line", estimator=None,
                 color=LINE_COLOR, linewidth=0.75, sort=False, ax=ax,
                 legend=False)
    ax.set_xlim(0.04, 25.96)
    ax.set_ylim(*ylim)
    ax.set_xticks(X_TICKS)
    ax.set_xticklabels([str(t) for t in X_TICKS])
    ax.set_yticks(yt)
    ax.set_yticklabels(ytl)
    ax.tick_params(axis="both", which="major", direction="out", length=7.2,
                   width=0.9, color="#222222", labelsize=13, pad=8.8,
                   labelcolor="#1a1a1a", bottom=True, left=True)
    ax.tick_params(axis="y", labelrotation=90)
    for lab in ax.get_yticklabels():
        lab.set_va("center")
    ax.set_xlabel(X_LABEL, fontsize=13, color="#1a1a1a")
    ax.set_ylabel(Y_LABEL, fontsize=13, color="#1a1a1a")
    ax.xaxis.set_label_coords(0.5, -0.125)
    ax.yaxis.set_label_coords(-0.0784, 0.5)
    ax.set_title(title, fontsize=15, fontweight="bold", pad=13.5,
                 color="#1a1a1a")
    for s in ax.spines.values():
        s.set_visible(True)
    ax.grid(False)

fig.savefig("out.png", dpi=100)
